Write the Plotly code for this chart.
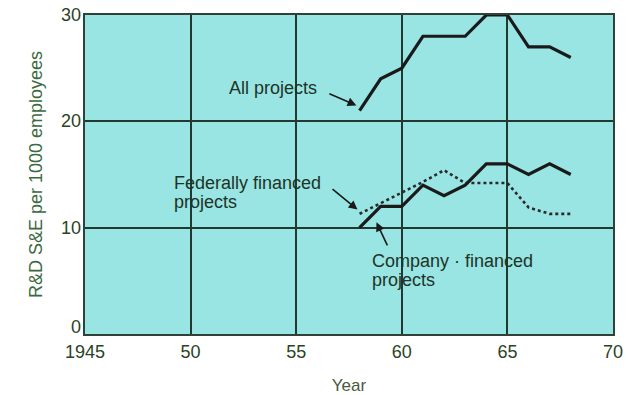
import plotly.graph_objects as go

# R&D scientists and engineers per 1000 employees, by source of funding
years = [1958, 1959, 1960, 1961, 1962, 1963, 1964, 1965, 1966, 1967, 1968]
all_projects = [21, 24, 25, 28, 28, 28, 30, 30, 27, 27, 26]
company_financed = [10, 12, 12, 14, 13, 14, 16, 16, 15, 16, 15]
federally_financed = [11.3, 12.3, 13.3, 14.3, 15.4, 14.2, 14.2, 14.2, 11.9, 11.3, 11.3]

x_ticks = [1945, 1950, 1955, 1960, 1965, 1970]
x_tick_labels = ["1945", "50", "55", "60", "65", "70"]
y_ticks = [0, 10, 20, 30]
y_tick_labels = ["0", "10", "20", "30"]

INK = "#1a1a1a"
LABEL = "#1f3326"
TICK = "#2a4327"
GRID = "#23392f"
FONT = "Liberation Sans, Arial, sans-serif"

fig = go.Figure()
fig.add_trace(go.Scatter(x=years, y=all_projects, mode="lines",
                         line=dict(color=INK, width=3.2), name="All projects"))
fig.add_trace(go.Scatter(x=years, y=federally_financed, mode="lines",
                         line=dict(color="#2a2a2a", width=2.6, dash="dot"),
                         name="Federally financed projects"))
fig.add_trace(go.Scatter(x=years, y=company_financed, mode="lines",
                         line=dict(color=INK, width=3.2), name="Company-financed projects"))

# Text labels for the curves
texts = [
    ("All projects", 1951.7, 23.1),
    ("Federally financed", 1949.1, 14.2),
    ("projects", 1949.1, 12.4),
    ("Company · financed", 1958.5, 6.9),
    ("projects", 1958.5, 5.1),
]
for t, x, y in texts:
    fig.add_annotation(x=x, y=y, xref="x", yref="y", text=t, showarrow=False,
                       xanchor="left", yanchor="middle",
                       font=dict(family=FONT, size=18, color=LABEL))

# Leader arrows from labels to curves
arrows = [
    ((1956.5, 22.65), (1957.85, 21.5)),
    ((1956.65, 13.75), (1957.9, 11.7)),
    ((1959.35, 8.2), (1958.8, 10.5)),
]
for (tx, ty), (hx, hy) in arrows:
    fig.add_annotation(x=hx, y=hy, ax=tx, ay=ty, xref="x", yref="y",
                       axref="x", ayref="y", text="", showarrow=True,
                       arrowhead=2, arrowsize=1.1, arrowwidth=1.6,
                       arrowcolor=INK, standoff=0, startstandoff=0)

# Value labels on the vertical axis; the bottom one sits just above the corner
for v, lab in zip(y_ticks, y_tick_labels):
    fig.add_annotation(x=0, y=v, xref="paper", yref="y", text=lab, showarrow=False,
                       xanchor="right", yanchor="middle", xshift=-2,
                       yshift=7 if v == 0 else 0,
                       font=dict(family=FONT, size=18, color=TICK))

fig.update_layout(
    width=631, height=395,
    margin=dict(l=85, r=18, t=15, b=61),
    paper_bgcolor="white",
    plot_bgcolor="#98e5e3",
    showlegend=False,
    font=dict(family=FONT, size=18, color=TICK),
)
fig.update_xaxes(
    range=[1945, 1970], tickmode="array", tickvals=x_ticks, ticktext=x_tick_labels,
    showgrid=True, gridcolor=GRID, gridwidth=1.5,
    showline=True, linecolor="#2f4238", linewidth=2, mirror=True,
    ticks="", zeroline=False, automargin=False,
    tickfont=dict(family=FONT, size=18, color=TICK),
    title=dict(text="Year", font=dict(family=FONT, size=17, color="#4a5a3e"), standoff=25),
)
fig.update_yaxes(
    range=[0, 30], tickmode="array", tickvals=y_ticks,
    showgrid=True, gridcolor=GRID, gridwidth=1.5,
    showline=True, linecolor="#2f4238", linewidth=2, mirror=True,
    ticks="", zeroline=False, showticklabels=False, automargin=False,
    title=dict(text="R&D S&E per 1000 employees",
               font=dict(family=FONT, size=18, color="#3b6a40"), standoff=36),
)

fig.write_html("out.html")
